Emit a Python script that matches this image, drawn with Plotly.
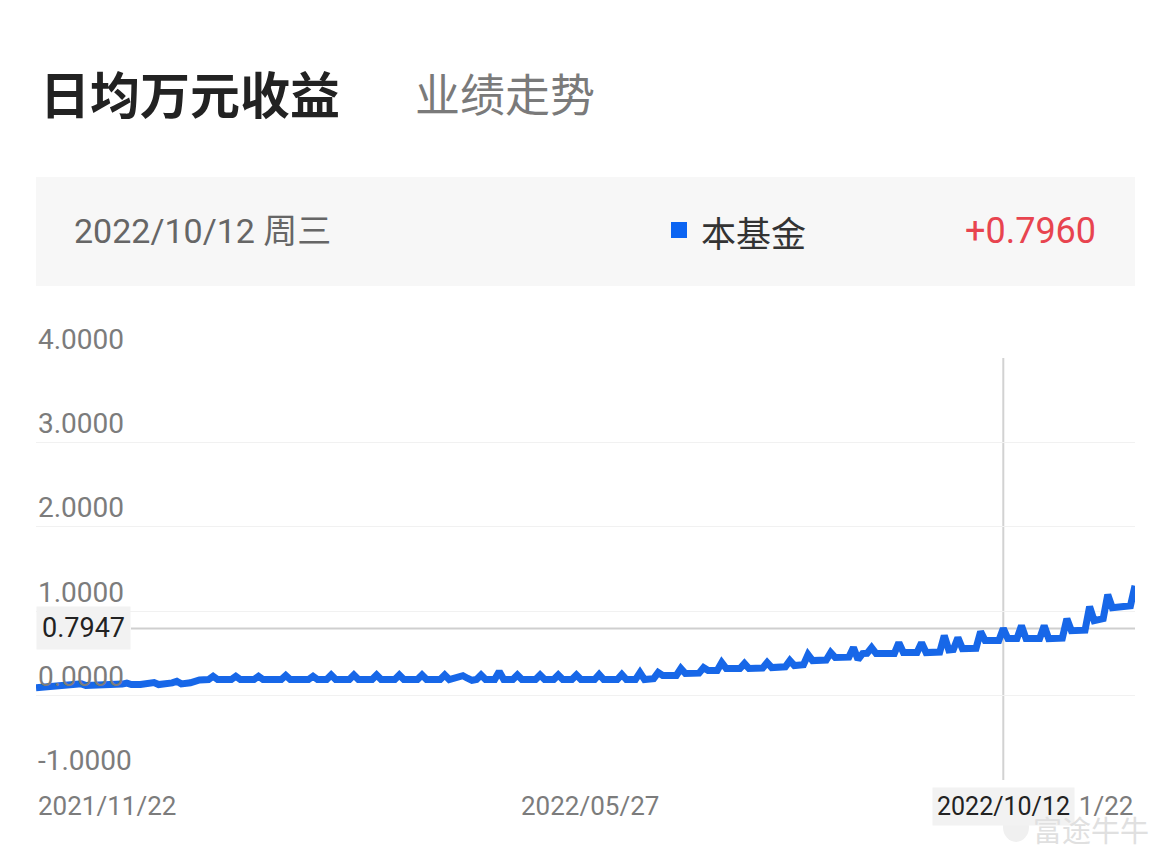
import plotly.graph_objects as go

# ---------------- data ----------------
# x = trading-day index from 2021/11/22 (0) to 2022/11/22 (242)
day_idx = [0, 5, 9, 10, 11, 13, 19, 20, 21, 23, 25, 26, 27, 28, 30, 31, 32, 34, 35, 36, 38, 39, 40, 43, 44, 45,
           48, 49, 50, 54, 55, 56, 60, 61, 62,
           64, 65, 66, 69, 70, 71, 74, 75, 76, 79, 80, 81, 84, 85, 86, 89, 90, 91, 93, 94, 95, 96, 97, 98, 99,
           101, 102, 103, 105, 106, 107, 110, 111, 112, 114, 115, 116, 118, 119, 120, 123, 124, 125,
           128, 129, 130, 132, 133, 134, 136, 137, 138, 141, 142, 143, 146, 147, 148, 150, 151, 152, 155, 156, 157,
           160, 161, 162, 165, 166, 167, 169, 170, 171, 174, 175, 176, 179, 180, 181, 182, 183, 184, 185, 189, 190,
           191, 194, 195, 196, 199, 200, 201, 202, 203, 204, 207, 208, 209, 212, 213, 214, 216, 217, 218, 221, 222,
           223, 226, 227, 228, 231, 232, 233, 235, 236, 237, 241, 242]
value = [0.091, 0.107, 0.125, 0.138, 0.118, 0.118, 0.135, 0.146, 0.130, 0.130, 0.140, 0.154, 0.130, 0.130, 0.150,
         0.169, 0.138, 0.150, 0.169, 0.185, 0.189, 0.228, 0.189, 0.189, 0.228, 0.189,
         0.189, 0.228, 0.189, 0.189, 0.237, 0.189, 0.189, 0.228, 0.189,
         0.189, 0.243, 0.189, 0.189, 0.243, 0.189, 0.189, 0.243, 0.189, 0.189, 0.243, 0.189, 0.189, 0.243, 0.189,
         0.189, 0.243, 0.189, 0.215, 0.235, 0.205, 0.180, 0.189, 0.243, 0.189,
         0.189, 0.284, 0.189, 0.189, 0.243, 0.189, 0.189, 0.243, 0.189, 0.189, 0.243, 0.189, 0.189, 0.243, 0.189,
         0.189, 0.249, 0.189,
         0.189, 0.249, 0.189, 0.189, 0.272, 0.189, 0.200, 0.272, 0.237, 0.237, 0.320, 0.260, 0.265, 0.331, 0.296,
         0.296, 0.391, 0.320, 0.320, 0.379, 0.320,
         0.325, 0.391, 0.331, 0.340, 0.414, 0.355, 0.365, 0.485, 0.414, 0.420, 0.509, 0.450, 0.455, 0.568, 0.426,
         0.497, 0.500, 0.568, 0.497, 0.497, 0.627,
         0.509, 0.509, 0.627, 0.509, 0.515, 0.710, 0.540, 0.545, 0.686, 0.556, 0.560, 0.757, 0.651, 0.651, 0.796,
         0.675, 0.675, 0.828, 0.675, 0.675, 0.828,
         0.675, 0.680, 0.911, 0.769, 0.775, 1.053, 0.888, 0.911, 1.195, 1.041, 1.065, 1.302]

y_ticks = [-1, 0, 1, 2, 3, 4]
y_tick_text = ["-1.0000", "0.0000", "1.0000", "2.0000", "3.0000", "4.0000"]
x_tick_idx = [0, 122, 242]
x_tick_text = ["2021/11/22", "2022/05/27", "2022/11/22"]

cursor_idx = 213
cursor_date = "2022/10/12"
cursor_weekday = "周三"
cursor_value = "+0.7960"
cursor_y = 0.7947
series_name = "本基金"
title_main = "日均万元收益"
title_sub = "业绩走势"
watermark = "富途牛牛"

# ---------------- layout helpers (pixel -> paper) ----------------
W, H = 1170, 866
PL, PR, PT, PB = 36, 1135, 358, 780


def px(x):
    return (x - PL) / (PR - PL)


def py(y):
    return (PB - y) / (PB - PT)


FONT = "Roboto, 'Noto Sans CJK SC', sans-serif"
CJK = "'Noto Sans CJK SC', Roboto, sans-serif"
BLUE = "#1767e8"

fig = go.Figure()
fig.add_trace(go.Scatter(
    x=day_idx, y=value, mode="lines",
    line=dict(color=BLUE, width=7), hoverinfo="skip", showlegend=False,
))

annotations = []
# titles
annotations.append(dict(text="<b>" + title_main + "</b>", x=px(38), y=py(92), xref="paper", yref="paper",
                        xanchor="left", yanchor="middle", showarrow=False,
                        font=dict(family=CJK, size=50, color="#222222")))
annotations.append(dict(text=title_sub, x=px(413), y=py(92), xref="paper", yref="paper",
                        xanchor="left", yanchor="middle", showarrow=False,
                        font=dict(family=CJK, size=45, color="#7a7a7a")))
# info bar texts
annotations.append(dict(text=cursor_date + " " + cursor_weekday, x=px(72), y=py(231), xref="paper", yref="paper",
                        xanchor="left", yanchor="middle", showarrow=False,
                        font=dict(family=FONT, size=34, color="#666666")))
annotations.append(dict(text=series_name, x=px(699), y=py(231), xref="paper", yref="paper",
                        xanchor="left", yanchor="middle", showarrow=False,
                        font=dict(family=CJK, size=35, color="#333333")))
annotations.append(dict(text=cursor_value, x=px(1098), y=py(231), xref="paper", yref="paper",
                        xanchor="right", yanchor="middle", showarrow=False,
                        font=dict(family=FONT, size=36, color="#e8444f")))
# y tick labels (above grid lines, inside plot)
for v, t in zip(y_ticks, y_tick_text):
    annotations.append(dict(text=t, x=px(36), y=v, xref="paper", yref="y", xanchor="left", yanchor="middle",
                            yshift=19, showarrow=False, font=dict(family=FONT, size=28, color="#7c7c7c")))
# cursor value box
annotations.append(dict(text=f"{cursor_y:.4f}", x=0, y=cursor_y, xref="paper", yref="y", xanchor="left",
                        yanchor="middle", showarrow=False, bgcolor="#f2f2f2", borderpad=5,
                        font=dict(family=FONT, size=27, color="#222222")))
# x tick labels
anchors = ["left", "center", "right"]
for xi, t, a in zip(x_tick_idx, x_tick_text, anchors):
    annotations.append(dict(text=t, x=xi, y=0, xref="x", yref="paper", xanchor=a, yanchor="middle",
                            yshift=-26, showarrow=False, font=dict(family=FONT, size=26, color="#7c7c7c")))
annotations.append(dict(text=cursor_date, x=cursor_idx, y=0, xref="x", yref="paper", xanchor="center",
                        yanchor="middle", yshift=-26, showarrow=False, bgcolor="#f2f2f2", borderpad=4,
                        font=dict(family=FONT, size=25, color="#222222")))
# watermark
annotations.append(dict(text=watermark, x=px(1151), y=py(829), xref="paper", yref="paper", xanchor="right",
                        yanchor="middle", showarrow=False, font=dict(family=CJK, size=29, color="#e0e0e0")))

shapes = [
    # info bar background
    dict(type="rect", xref="paper", yref="paper", x0=0, x1=1, y0=py(286), y1=py(177),
         fillcolor="#f7f7f7", line=dict(width=0), layer="below"),
    # legend square
    dict(type="rect", xref="paper", yref="paper", x0=px(671), x1=px(687), y0=py(238), y1=py(222),
         fillcolor="#0b64f2", line=dict(width=0)),
    # watermark logo hint
    dict(type="circle", xref="paper", yref="paper", x0=px(1003), x1=px(1029), y0=py(842), y1=py(812),
         fillcolor="#f0f0f0", line=dict(width=0)),
    # crosshair
    dict(type="line", xref="x", yref="paper", x0=cursor_idx, x1=cursor_idx, y0=0, y1=1,
         line=dict(color="#d2d2d2", width=2), layer="below"),
    dict(type="line", xref="paper", yref="y", x0=px(131), x1=1, y0=cursor_y, y1=cursor_y,
         line=dict(color="#cfcfcf", width=2), layer="below"),
]

fig.update_layout(
    width=W, height=H,
    margin=dict(l=PL, r=W - PR, t=PT, b=H - PB),
    paper_bgcolor="white", plot_bgcolor="white",
    xaxis=dict(range=[0, 242], showgrid=False, zeroline=False, showticklabels=False, showline=False,
               fixedrange=True),
    yaxis=dict(range=[-1.002, 4.002], tickvals=y_ticks, showticklabels=False, showgrid=True,
               gridcolor="#f1f1f1", gridwidth=1, zeroline=False, showline=False, fixedrange=True),
    annotations=annotations, shapes=shapes,
    showlegend=False,
)

fig.write_html("out.html", config={"displayModeBar": False},
               post_script="document.body.style.margin='0';document.body.style.padding='0';")
